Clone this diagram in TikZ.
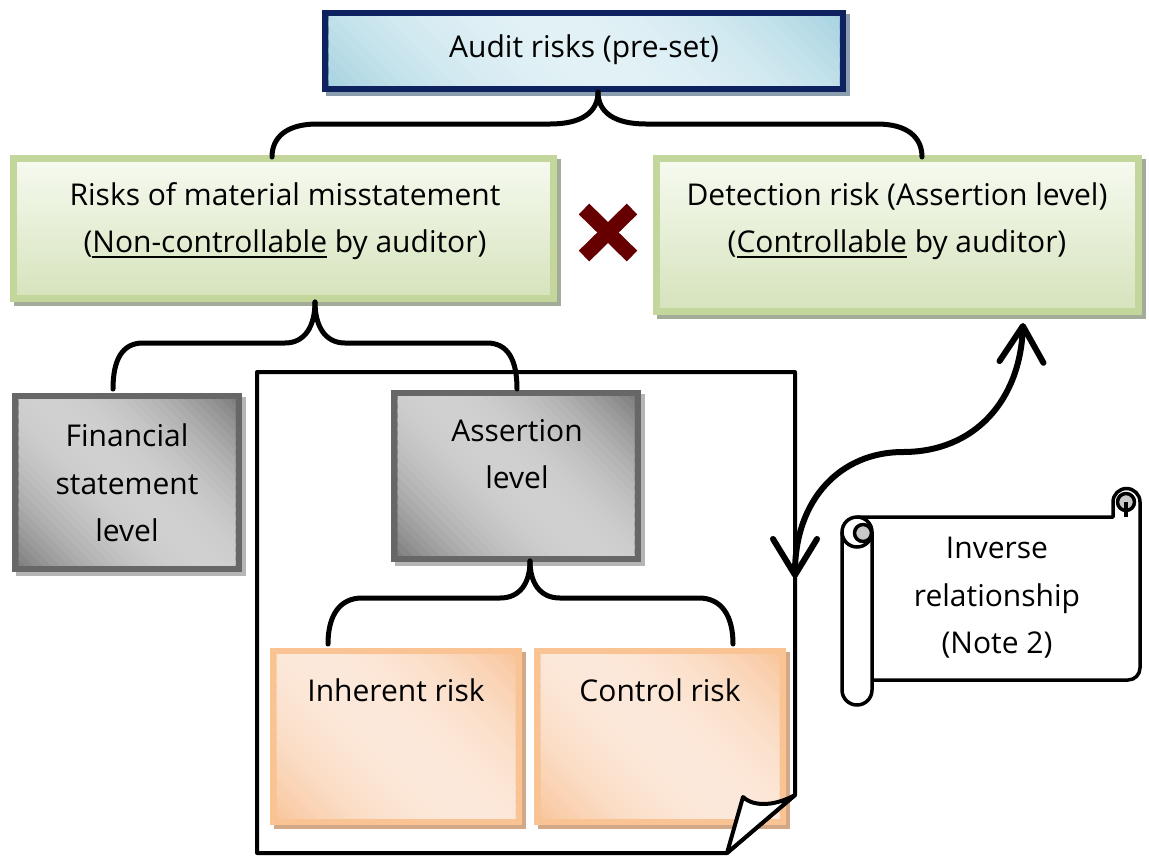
\documentclass[tikz,border=0pt]{standalone}
\usepackage{fontspec}
\setmainfont{Open Sans}
\usetikzlibrary{arrows.meta}

\definecolor{navy}{HTML}{0E2260}
\definecolor{bluelt}{HTML}{E2F1F6}
\definecolor{bluedk}{HTML}{98CCDB}
\definecolor{grnbrd}{HTML}{C3D69B}
\definecolor{grntop}{HTML}{F6FAF0}
\definecolor{grnbot}{HTML}{D6E3BC}
\definecolor{gybrd}{HTML}{676767}
\definecolor{gylt}{HTML}{D0D0D0}
\definecolor{gydk}{HTML}{6C6C6C}
\definecolor{orbrd}{HTML}{F9C394}
\definecolor{orlt}{HTML}{FCE8DA}
\definecolor{ordk}{HTML}{F7BD8C}
\definecolor{xred}{HTML}{660000}
\definecolor{shblue}{HTML}{8A9EAE}
\definecolor{shgrn}{HTML}{A3AC98}
\definecolor{shgy}{HTML}{B5B5B5}
\definecolor{shor}{HTML}{D2A887}
\definecolor{curl}{HTML}{C8C8C8}

% underline with a heavier rule
\newsavebox{\ulbox}
\newcommand\ulin[1]{\sbox{\ulbox}{#1}\rlap{\rule[-5pt]{\wd\ulbox}{1.8pt}}\usebox{\ulbox}}

% diagonal light band across the inside of a framed box, built from stripes:
% #1 node, #2 corner colour, #3 band colour, #4 distance at which the corner colour is reached
\newcommand\diagfill[4]{%
  \begin{scope}
    \clip ([shift={(6.5,6.5)}]#1.north west) rectangle ([shift={(-6.5,-6.5)}]#1.south east);
    \fill[#2] (#1.north west) rectangle (#1.south east);
    \begin{scope}[shift={(#1.center)}]
      \foreach \k in {-24,...,23}{
        \pgfmathsetmacro\va{\k*#4/24}
        \pgfmathsetmacro\vb{(\k+1.4)*#4/24}
        \pgfmathsetmacro\mixv{100*max(0,1-((\k+0.5)/24)^2)}
        \fill[#3!\mixv!#2]
          ({0.7071*(-400+\va)},{0.7071*(-400-\va)}) --
          ({0.7071*(400+\va)},{0.7071*(400-\va)}) --
          ({0.7071*(400+\vb)},{0.7071*(400-\vb)}) --
          ({0.7071*(-400+\vb)},{0.7071*(-400-\vb)}) -- cycle;
      }
    \end{scope}
  \end{scope}}

\tikzset{
  shadowed/.style={preaction={fill=#1, draw=#1, line width=7pt,
      transform canvas={xshift=4pt, yshift=-4pt}}},
  panel/.style={rectangle, inner sep=0pt, line width=7pt},
  bluebox/.style={panel, draw=navy, shadowed=shblue},
  greenbox/.style={panel, draw=grnbrd, shadowed=shgrn,
      top color=grntop, bottom color=grnbot},
  graybox/.style={panel, draw=gybrd, shadowed=shgy},
  orangebox/.style={panel, draw=orbrd, shadowed=shor},
  lbl/.style={inner sep=0pt, align=center, font=\fontsize{30}{47.5}\selectfont},
  brace/.style={draw=black, line width=5pt, line cap=round},
  pageline/.style={draw=black, line width=4pt, line join=round},
  scrollline/.style={draw=black, line width=3.5pt, line join=round},
  xmark/.style={draw=xred, line width=15pt},
  barb/.tip={Straight Barb[length=36pt, width=44pt, round]},
}

\begin{document}
\begin{tikzpicture}[x=1pt, y=-1pt]
\useasboundingbox (0,0) rectangle (1149,855);

% ---- top level ----
\node[bluebox, minimum width=517pt, minimum height=75pt] (audit) at (584,51) {};
\diagfill{audit}{bluedk}{bluelt}{230}
\node[lbl] (auditT) at (584,50) {Audit risks (pre-set)};

% ---- risk components ----
\node[greenbox, minimum width=540pt, minimum height=140pt] (rmm) at (283.5,228.5) {};
\node[lbl] (rmmT) at (285,221)
  {Risks of material misstatement\\(\ulin{Non-controllable} by auditor)};

\node[greenbox, minimum width=482pt, minimum height=153pt] (det) at (897.5,235) {};
\node[lbl] (detT) at (897,221)
  {Detection risk (Assertion level)\\(\ulin{Controllable} by auditor)};

% multiplication sign between the two components
\draw[xmark] (584,209) -- (632,256);
\draw[xmark] (632,209) -- (584,256);

% ---- levels ----
\node[graybox, minimum width=223pt, minimum height=172pt] (fsl) at (127,482.5) {};
\diagfill{fsl}{gydk}{gylt}{150}
\node[lbl] (fslT) at (127,483) {Financial\\statement\\level};
\node[graybox, minimum width=243pt, minimum height=165pt] (asl) at (516,476) {};
\diagfill{asl}{gydk}{gylt}{155}
\node[lbl] (aslT) at (517,454) {Assertion\\level};

% ---- assertion-level risks ----
\node[orangebox, minimum width=245pt, minimum height=170pt] (inh) at (396,736.5) {};
\diagfill{inh}{ordk}{orlt}{160}
\node[lbl] (inhT) at (396,690) {Inherent risk};
\node[orangebox, minimum width=245pt, minimum height=170pt] (ctl) at (660,736.5) {};
\diagfill{ctl}{ordk}{orlt}{160}
\node[lbl] (ctlT) at (660,690) {Control risk};

% ---- braces ----
\coordinate (b1t) at (598,92);
\coordinate (b1l) at (272,157);
\coordinate (b1r) at (922,157);
\draw[brace] (b1t) .. controls (598,112) and (582,124) .. (550,124) -- (317,124)
  .. controls (287,124) and (272,137) .. (b1l);
\draw[brace] (b1t) .. controls (598,112) and (614,124) .. (646,124) -- (877,124)
  .. controls (907,124) and (922,137) .. (b1r);

\coordinate (b2t) at (315,302);
\coordinate (b2l) at (113,389);
\coordinate (b2r) at (517,389);
\draw[brace] (b2t) .. controls (315,326) and (305,343) .. (285,343) -- (143,343)
  .. controls (122,343) and (113,360) .. (b2l);
\draw[brace] (b2t) .. controls (315,326) and (325,343) .. (345,343) -- (487,343)
  .. controls (508,343) and (517,360) .. (b2r);

\coordinate (b3t) at (530,561);
\coordinate (b3l) at (328,644);
\coordinate (b3r) at (733,644);
\draw[brace] (b3t) .. controls (530,583) and (520,598) .. (500,598) -- (362,598)
  .. controls (340,598) and (328,615) .. (b3l);
\draw[brace] (b3t) .. controls (530,583) and (540,598) .. (560,598) -- (699,598)
  .. controls (721,598) and (733,615) .. (b3r);

% ---- page with folded corner ----
\coordinate (pgFold) at (795,795);
\coordinate (pgCut) at (727,853);
\draw[pageline] (pgCut) -- (257,853) -- (257,372) -- (795,372) -- (pgFold) -- cycle;
\draw[pageline, fill=white] (pgCut) -- (743,797)
  .. controls (755,808) and (777,805) .. (pgFold) -- cycle;

% ---- inverse relationship arrow ----
\coordinate (arrBot) at (795,578);
\coordinate (arrTop) at (1023,323);
\draw[line width=6pt, {barb}-{barb}] (arrBot)
  .. controls (795,500) and (840,452) .. (903,452)
  .. controls (975,452) and (1020,400) .. (arrTop);

% ---- scroll ----
\draw[scrollline, fill=white] (857,517) -- (1113,517) -- (1113,502)
  arc[start angle=180, end angle=360, radius=13.5] -- (1140,668)
  arc[start angle=0, end angle=90, radius=12] -- (872,680) -- (857,680) -- cycle;
\draw[scrollline, fill=curl] (1126,502) circle[radius=8.5];
\draw[scrollline] (1126,502) -- (1126,517);
\draw[scrollline, fill=white] (872,532) -- (872,690)
  arc[start angle=0, end angle=180, radius=15] -- (842,532)
  arc[start angle=180, end angle=360, radius=15];
\draw[scrollline] (842,532) arc[start angle=180, end angle=0, radius=15];
\draw[scrollline, fill=curl] (863,533) circle[radius=8.5];
\node[lbl] (note) at (997,598) {Inverse\\relationship\\(Note 2)};

\end{tikzpicture}
\end{document}
